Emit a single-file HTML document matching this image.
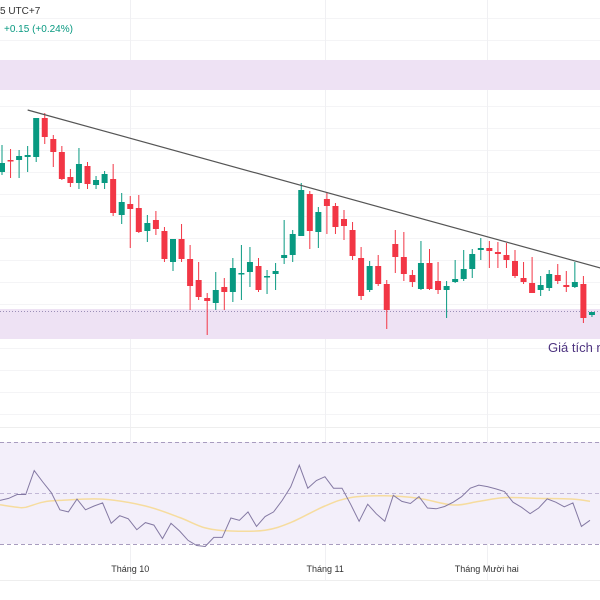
<!DOCTYPE html>
<html><head><meta charset="utf-8"><style>
html,body{margin:0;padding:0;background:#fff;width:600px;height:600px;overflow:hidden}
svg{display:block;font-family:"Liberation Sans","DejaVu Sans",sans-serif}
</style></head><body>
<svg id="chart" width="600" height="600" viewBox="0 0 600 600" xmlns="http://www.w3.org/2000/svg">
<g id="grid"></g>
<rect x="0" y="60" width="600" height="30" fill="#eee2f4"/>
<rect x="0" y="309" width="600" height="30" fill="#eee2f4"/>
<line x1="0" y1="311.5" x2="600" y2="311.5" stroke="#9c8fb8" stroke-width="1" stroke-dasharray="1,2"/>
<g id="candles"></g>
<line id="trend" stroke="#555" stroke-width="1.2"/>
<text x="548" y="352" font-size="13" fill="#4e3480">Giá tích n</text>
<text x="0" y="14" font-size="10" fill="#333">5 UTC+7</text>
<text x="4" y="32" font-size="10" fill="#089981">+0.15 (+0.24%)</text>
<line x1="0" y1="427.5" x2="600" y2="427.5" stroke="#eee"/>
<rect x="0" y="442" width="600" height="102" fill="#f3effa"/>
<line x1="0" y1="442.5" x2="600" y2="442.5" stroke="#a89cbf" stroke-dasharray="4,3"/>
<line x1="0" y1="493.5" x2="600" y2="493.5" stroke="#c2b8d6" stroke-dasharray="4,3"/>
<line x1="0" y1="544.5" x2="600" y2="544.5" stroke="#a89cbf" stroke-dasharray="4,3"/>
<path id="ma" fill="none" stroke="#f6dc9e" stroke-width="1.5"/>
<path id="rsi" fill="none" stroke="#8479a3" stroke-width="1"/>
<g id="xlabels"></g>
<line x1="0" y1="580.5" x2="600" y2="580.5" stroke="#eee"/>
</svg>
<script>
// price values = 400 - pixel level
const opens  = [228,240,240,243,243,282,261,248,223,217,234,215,217,221,185,196,192,169,180,169,138,161,141,120,102,97,113,108,127,128,134,124,126,142,145,164,206,168,201,194,181,170,142,110,134,116,156,143,125,111,137,119,110,118,121,131,150,152,148,145,139,122,117,110,112,125,115,113,116,85];
const closes = [237,239,244,245,282,263,248,221,217,236,216,220,226,187,198,191,168,177,171,141,161,141,114,103,99,110,108,132,127,138,110,124,129,145,166,210,169,188,194,173,174,144,104,134,116,90,143,126,118,137,111,110,114,121,131,146,152,149,146,140,124,118,107,115,126,119,113,118,82,88];
const highs  = [255,251,250,254,282,287,265,254,231,252,238,224,229,236,207,204,205,185,189,173,161,176,155,138,107,128,122,142,155,153,142,130,137,180,170,217,209,193,208,197,190,178,153,139,145,120,170,168,130,159,151,138,119,140,150,151,162,159,158,157,150,138,143,124,130,136,129,138,124,88];
const lows   = [225,222,222,228,238,256,233,220,213,211,211,211,211,184,176,152,167,158,165,138,129,138,90,100,65,90,90,98,100,113,108,106,110,136,138,164,151,152,166,166,160,140,100,108,114,71,127,119,113,110,110,106,82,117,119,122,140,132,132,132,122,116,107,104,109,116,108,112,77,83];
const rsiVals = [47.1,47.9,49.4,49.4,58.8,54.3,50.1,43.4,42.6,47.6,43.4,44.9,46.1,38.1,41.1,39.9,35.6,38.4,37.4,32.1,38.1,35.1,31.4,29.4,29.0,32.6,32.6,40.2,39.3,42.6,36.9,40.8,42.6,47.1,52.4,60.9,51.9,54.9,56.4,51.9,51.9,45.6,38.9,45.6,41.9,38.9,49.1,46.7,45.9,48.6,44.1,43.8,44.7,46.4,48.6,51.9,53.1,52.5,51.6,50.6,46.4,44.4,41.9,44.1,47.7,46.4,44.6,46.1,36.9,39.3];
const maIdx  = [0,2,3,5,7,12,17,21,24,27,31,34,38,41,45,49,53,56,59,63,67,69];
const maVals = [45.4,44.4,44.4,46.4,47.1,47.6,44.9,40.4,36.3,35.1,35.4,38.4,44.9,48.2,48.9,47.9,45.3,46.7,48.2,47.9,47.6,46.7];
const trendIdx = [3,70];
const trendVals = [290,132];
const monthLabels = ["Tháng 10","Tháng 11","Tháng Mười hai"];
const monthIdx = [15,37.8,56.7];

const NS="http://www.w3.org/2000/svg";
const xAt=i=>2+8.55*i;
const yP=v=>400-v;
const yR=v=>442+(70-v)*2.55;
function mk(tag,attrs,parent){const e=document.createElementNS(NS,tag);for(const k in attrs)e.setAttribute(k,attrs[k]);parent.appendChild(e);return e;}

const grid=document.getElementById('grid');
for(let y=18;y<420;y+=22){const l=mk('line',{x1:0,x2:600,y1:y+.5,y2:y+.5,stroke:'#f4f4f6'},grid);}
monthIdx.forEach(m=>{const x=Math.round(xAt(m))+.5;const l=mk('line',{x1:x,x2:x,y1:0,y2:580,stroke:'#f0f0f3'},grid);});

const cg=document.getElementById('candles');
opens.forEach((o,i)=>{
  const c=closes[i],up=c>=o,col=up?'#089981':'#f23645',x=xAt(i);
  const g=mk('g',{},cg);
  
  
  mk('line',{x1:x,x2:x,y1:yP(highs[i]),y2:yP(lows[i]),stroke:col,'stroke-width':1},g);
  const top=yP(Math.max(o,c)),h=Math.max(1.5,Math.abs(o-c));
  mk('rect',{x:x-3,y:top,width:6,height:h,fill:col},g);
});

const t=document.getElementById('trend');
t.setAttribute('x1',xAt(trendIdx[0]));t.setAttribute('y1',yP(trendVals[0]));
t.setAttribute('x2',xAt(trendIdx[1]));t.setAttribute('y2',yP(trendVals[1]));

document.getElementById('rsi').setAttribute('d',rsiVals.map((v,i)=>(i?'L':'M')+(xAt(i)-2).toFixed(1)+','+yR(v).toFixed(1)).join(''));

const pts=maIdx.map((k,i)=>[xAt(k)-2,yR(maVals[i])]);
let d='M'+pts[0][0]+','+pts[0][1];
for(let i=0;i<pts.length-1;i++){const p0=pts[Math.max(0,i-1)],p1=pts[i],p2=pts[i+1],p3=pts[Math.min(pts.length-1,i+2)];
d+='C'+(p1[0]+(p2[0]-p0[0])/6).toFixed(1)+','+(p1[1]+(p2[1]-p0[1])/6).toFixed(1)+' '+(p2[0]-(p3[0]-p1[0])/6).toFixed(1)+','+(p2[1]-(p3[1]-p1[1])/6).toFixed(1)+' '+p2[0].toFixed(1)+','+p2[1].toFixed(1);}
document.getElementById('ma').setAttribute('d',d);

const xl=document.getElementById('xlabels');
monthLabels.forEach((s,i)=>{const e=mk('text',{x:xAt(monthIdx[i]),y:572,'font-size':9,fill:'#333','text-anchor':'middle'},xl);e.textContent=s;

});
</script>
</body></html>
